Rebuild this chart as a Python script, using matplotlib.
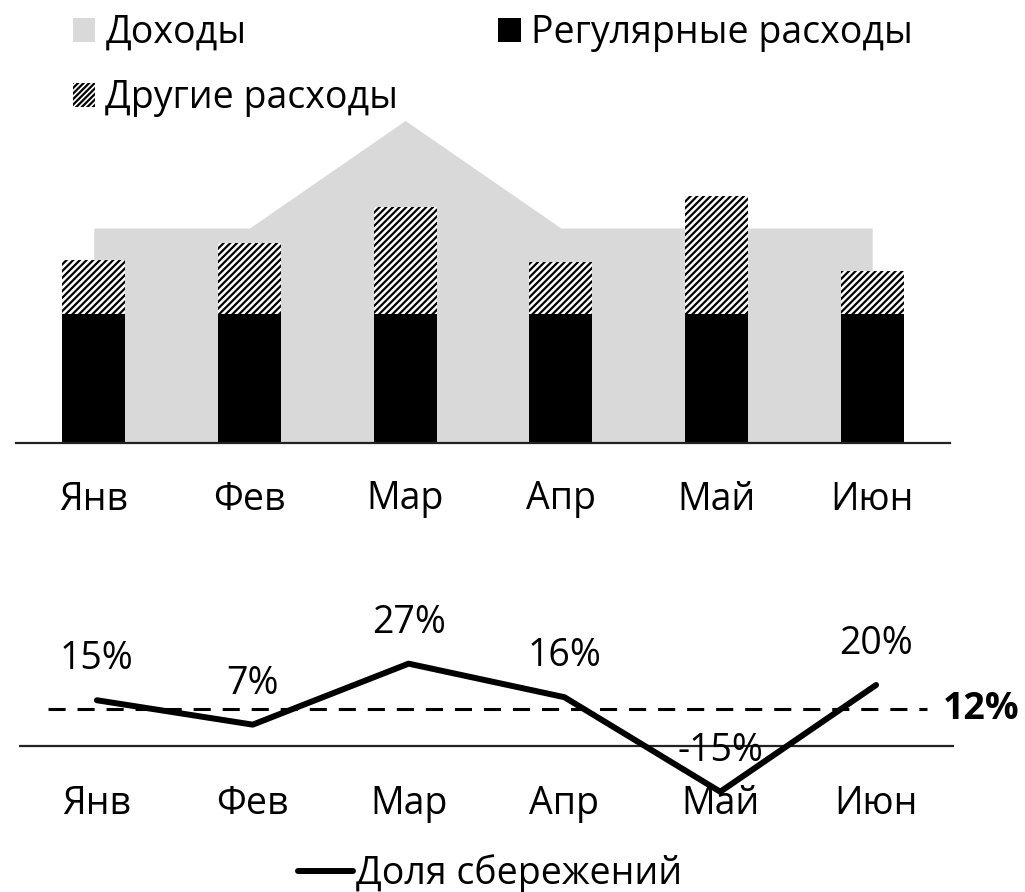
import matplotlib
matplotlib.use("Agg")
import matplotlib.pyplot as plt
from matplotlib.patches import Patch
from matplotlib.lines import Line2D

plt.rcParams['font.family'] = ['Open Sans', 'DejaVu Sans']
plt.rcParams['hatch.linewidth'] = 1.6

months = ["Янв", "Фев", "Мар", "Апр", "Май", "Июн"]
income = [100, 100, 150, 100, 100, 100]
regular = [60, 60, 60, 60, 60, 60]
other = [25, 33, 50, 24, 55, 20]
savings = [15, 7, 27, 16, -15, 20]
target = 12

W, H = 1025, 892
DPI = 100
fig = plt.figure(figsize=(W / DPI, H / DPI), dpi=DPI)

def ax_px(left, right, top, bottom):
    return [left / W, 1 - bottom / H, (right - left) / W, (bottom - top) / H]

FS = 27
x = list(range(len(months)))

# Top panel
ax1 = fig.add_axes(ax_px(16, 950, 99, 443))
ax1.fill_between(x, income, color="#d9d9d9", linewidth=0, zorder=1)
ax1.bar(x, regular, width=0.405, color="black", linewidth=0, zorder=2)
ax1.bar(x, other, width=0.405, bottom=regular, color="white", edgecolor="black",
        hatch="/////", linewidth=0, zorder=2)
ax1.set_xlim(-0.5, 5.5)
ax1.set_ylim(0, 160)
for s in ["top", "right", "left"]:
    ax1.spines[s].set_visible(False)
ax1.spines["bottom"].set_linewidth(1.6)
ax1.spines["bottom"].set_color("#222222")
ax1.set_yticks([])
ax1.set_xticks(x)
ax1.set_xticklabels(months, fontsize=FS)
ax1.tick_params(axis="x", length=0, pad=27)

# Bottom panel
ax2 = fig.add_axes(ax_px(19, 954, 624, 807))
ax2.set_xlim(-0.5, 5.5)
ax2.set_ylim(-20, 40)
ax2.axhline(0, color="#222222", linewidth=1.6, zorder=1)
ax2.axhline(target, xmin=0.031, xmax=0.971, color="black", linewidth=2.2,
            dashes=(5.6, 3.9), zorder=2)
ax2.plot(x, savings, color="black", linewidth=4.3, solid_capstyle="round",
         zorder=3, clip_on=False)
for xi, v in zip(x, savings):
    ax2.annotate(f"{v}%", (xi, v), xytext=(0, 29.5), textcoords="offset points",
                 ha="center", va="center", fontsize=FS, zorder=4,
                 annotation_clip=False)
ax2.text(1.0 - 0.012, target, f"{target}%", transform=ax2.get_yaxis_transform(),
         ha="left", va="center", fontsize=FS, fontweight="bold")
for s in ["top", "right", "left", "bottom"]:
    ax2.spines[s].set_visible(False)
ax2.set_yticks([])
ax2.set_xticks(x)
ax2.set_xticklabels(months, fontsize=FS)
ax2.tick_params(axis="x", length=0, pad=-16)

# Legends
h_inc = Patch(facecolor="#d9d9d9", edgecolor="none", label="Доходы")
h_oth = Patch(facecolor="white", edgecolor="black", hatch="//////", linewidth=0,
              label="Другие расходы")
h_reg = Patch(facecolor="black", edgecolor="none", label="Регулярные расходы")
fig.legend(handles=[h_inc, h_oth, h_reg], ncol=2, loc="upper left",
           bbox_to_anchor=(73 / W, 1 - 14 / H), frameon=False, fontsize=FS,
           borderpad=0, borderaxespad=0, handlelength=0.59, handleheight=0.59,
           handletextpad=0.27, columnspacing=2.67, labelspacing=0.73)

h_sav = Line2D([], [], color="black", linewidth=4.3, solid_capstyle="round",
               label="Доля сбережений")
fig.legend(handles=[h_sav], loc="center", bbox_to_anchor=(490 / W, 1 - 874 / H),
           frameon=False, fontsize=FS, borderpad=0, borderaxespad=0,
           handlelength=1.47, handletextpad=0.08)

fig.savefig("out.png", dpi=DPI)
